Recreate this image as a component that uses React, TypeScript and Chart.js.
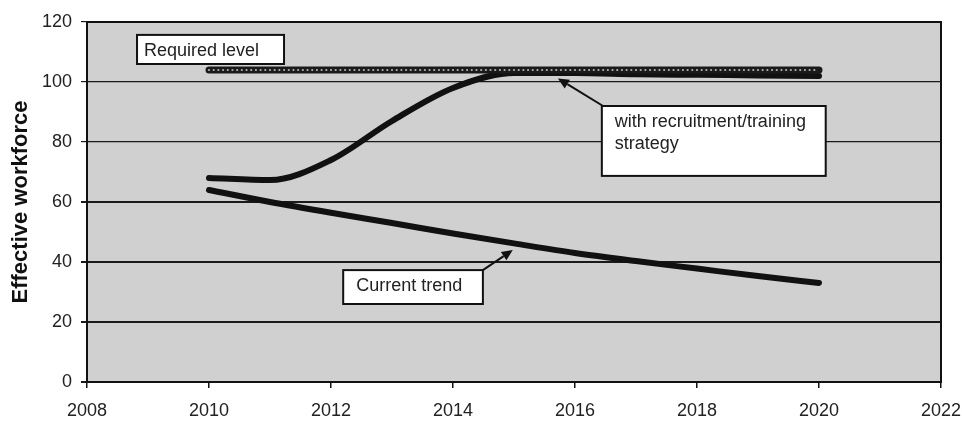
import React, { useEffect, useRef } from "react";
import { Chart, registerables } from "chart.js";

Chart.register(...registerables);

const years = [2010, 2011, 2012, 2013, 2014, 2015, 2016, 2017, 2018, 2019, 2020];
const requiredLevel = [104, 104, 104, 104, 104, 104, 104, 104, 104, 104, 104];
const withStrategy = [68, 67.3, 74, 87, 98, 103, 103, 102.6, 102.4, 102.2, 102];
const currentTrend = [64, 60, 56.4, 53, 49.5, 46.2, 43, 40.3, 37.8, 35.3, 33];
const yTicks = [0, 20, 40, 60, 80, 100, 120];
const xTicks = [2008, 2010, 2012, 2014, 2016, 2018, 2020, 2022];

const annotations = [
  { lines: ["Required level"], x0: 2008.82, x1: 2011.23, y0: 115.7, y1: 106, pad: 7, arrow: null },
  {
    lines: ["with recruitment/training", "strategy"],
    x0: 2016.44, x1: 2020.11, y0: 92, y1: 68.7, pad: 13,
    arrow: { fx: 2016.46, fy: 92, tx: 2015.72, ty: 101.2 },
  },
  {
    lines: ["Current trend"],
    x0: 2012.2, x1: 2014.49, y0: 37.3, y1: 26, pad: 13,
    arrow: { fx: 2014.49, fy: 37.3, tx: 2014.98, ty: 44 },
  },
];

const pts = (vals: number[]) => years.map((x, i) => ({ x, y: vals[i] }));
const FONT = "'Liberation Sans', Arial, sans-serif";

const bgPlugin = {
  id: "bgPlugin",
  beforeDraw(chart: any) {
    const { ctx, chartArea: a } = chart;
    ctx.save();
    ctx.fillStyle = "#d0d0d0";
    ctx.fillRect(a.left, a.top, a.right - a.left, a.bottom - a.top);
    ctx.restore();
  },
  afterDatasetDraw(chart: any, args: any) {
    if (args.index !== 0) return;
    const pts = args.meta.data;
    if (!pts.length) return;
    const ctx = chart.ctx;
    ctx.save();
    ctx.fillStyle = "#b4b4b4";
    for (let i = 0; i < pts.length - 1; i++) {
      const p = pts[i], q = pts[i + 1];
      const len = Math.hypot(q.x - p.x, q.y - p.y);
      const n = Math.round(len / 4.6);
      for (let k = 0; k < n; k++) {
        const f = k / n;
        ctx.beginPath();
        ctx.arc(p.x + (q.x - p.x) * f, p.y + (q.y - p.y) * f, 1.1, 0, Math.PI * 2);
        ctx.fill();
      }
    }
    ctx.restore();
  },
  afterDatasetsDraw(chart: any) {
    const { ctx, chartArea: a, scales } = chart;
    const xs = scales.x, ys = scales.y;
    ctx.save();
    ctx.strokeStyle = "#111";
    ctx.lineWidth = 2;
    ctx.strokeRect(a.left, a.top, a.right - a.left, a.bottom - a.top);
    ctx.font = "18px " + FONT;
    ctx.textBaseline = "middle";
    ctx.textAlign = "left";
    for (const an of annotations) {
      const l = xs.getPixelForValue(an.x0), r = xs.getPixelForValue(an.x1);
      const t = ys.getPixelForValue(an.y0), b = ys.getPixelForValue(an.y1);
      if (an.arrow) {
        const fx = xs.getPixelForValue(an.arrow.fx), fy = ys.getPixelForValue(an.arrow.fy);
        const tx = xs.getPixelForValue(an.arrow.tx), ty = ys.getPixelForValue(an.arrow.ty);
        const ang = Math.atan2(ty - fy, tx - fx);
        const hl = 11, hw = 5;
        const bx = tx - Math.cos(ang) * hl, by = ty - Math.sin(ang) * hl;
        ctx.strokeStyle = "#111";
        ctx.lineWidth = 2;
        ctx.beginPath();
        ctx.moveTo(fx, fy);
        ctx.lineTo(bx, by);
        ctx.stroke();
        ctx.fillStyle = "#111";
        ctx.beginPath();
        ctx.moveTo(tx, ty);
        ctx.lineTo(bx + Math.sin(ang) * hw, by - Math.cos(ang) * hw);
        ctx.lineTo(bx - Math.sin(ang) * hw, by + Math.cos(ang) * hw);
        ctx.closePath();
        ctx.fill();
      }
      ctx.fillStyle = "#ffffff";
      ctx.fillRect(l, t, r - l, b - t);
      ctx.strokeStyle = "#111";
      ctx.lineWidth = 2;
      ctx.strokeRect(l, t, r - l, b - t);
      ctx.fillStyle = "#222";
      an.lines.forEach((s, i) => {
        ctx.fillText(s, l + an.pad, t + 16 + i * 22);
      });
    }
    ctx.restore();
  },
};

export default function App() {
  const ref = useRef<HTMLCanvasElement>(null);
  useEffect(() => {
    document.body.style.margin = "0";
    const chart = new Chart(ref.current!, {
      type: "line",
      data: {
        datasets: [
          {
            label: "Required level",
            data: pts(requiredLevel),
            borderColor: "#1a1a1a",
            borderWidth: 7,
            borderCapStyle: "round",
            pointRadius: 0,
          },
          {
            label: "With recruitment/training strategy",
            data: pts(withStrategy),
            borderColor: "#111",
            borderWidth: 6,
            borderCapStyle: "round",
            cubicInterpolationMode: "monotone",
            pointRadius: 0,
          },
          {
            label: "Current trend",
            data: pts(currentTrend),
            borderColor: "#111",
            borderWidth: 6,
            borderCapStyle: "round",
            cubicInterpolationMode: "monotone",
            pointRadius: 0,
          },
        ],
      },
      options: {
        animation: false,
        responsive: false,
        layout: { padding: { left: 0, right: 21, top: 22, bottom: 0 } },
        plugins: { legend: { display: false }, tooltip: { enabled: false } },
        scales: {
          x: {
            type: "linear",
            min: 2008,
            max: 2022,
            afterBuildTicks: (s: any) => {
              s.ticks = xTicks.map((v) => ({ value: v }));
            },
            afterFit: (s: any) => {
              s.height = 39;
              s.paddingRight = 0;
              s.paddingLeft = 0;
            },
            ticks: {
              color: "#222",
              font: { family: FONT, size: 18 },
              padding: 12,
              callback: (v: any) => String(v),
            },
            grid: { drawOnChartArea: false, drawTicks: true, tickLength: 6, color: "#111", lineWidth: 1.5 },
            border: { color: "#111", width: 2 },
          },
          y: {
            min: 0,
            max: 120,
            afterBuildTicks: (s: any) => {
              s.ticks = yTicks.map((v) => ({ value: v }));
            },
            afterFit: (s: any) => {
              s.width = 87;
              s.paddingTop = 0;
              s.paddingBottom = 0;
            },
            ticks: {
              color: "#222",
              font: { family: FONT, size: 18 },
              padding: 9,
            },
            grid: {
              color: "#1a1a1a",
              lineWidth: (c: any) => (c.tick && c.tick.value <= 60 ? 2 : 1.2),
              tickLength: 6,
            },
            border: { color: "#111", width: 2 },
            title: {
              display: true,
              text: "Effective workforce",
              color: "#111",
              font: { family: FONT, size: 22, weight: "bold" },
              padding: { top: 8, bottom: 0 },
            },
          },
        },
      },
      plugins: [bgPlugin],
    });
    return () => chart.destroy();
  }, []);
  return (
    <div style={{ position: "relative", width: 962, height: 421 }}>
      <canvas ref={ref} width={962} height={421} style={{ width: 962, height: 421, display: "block" }} />
    </div>
  );
}
